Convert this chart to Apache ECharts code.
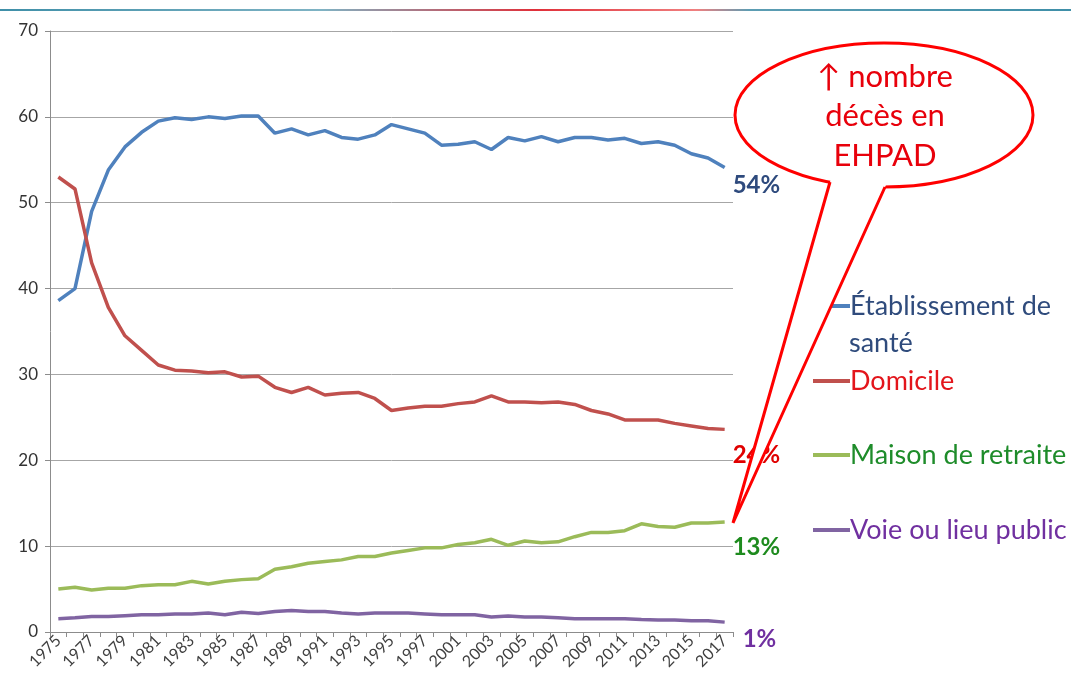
<!DOCTYPE html>
<html>
<head>
<meta charset="utf-8">
<script src="https://cdn.jsdelivr.net/npm/echarts@6/dist/echarts.min.js"></script>
<style>
  html,body{margin:0;padding:0;background:#fff;}
  #main{width:1071px;height:680px;}
</style>
</head>
<body>
<div id="main"></div>
<script>
// années (1998 et 2000 absentes du graphique)
var years = ['1975','1976','1977','1978','1979','1980','1981','1982','1983','1984','1985','1986','1987','1988','1989','1990','1991','1992','1993','1994','1995','1996','1997','1999','2001','2002','2003','2004','2005','2006','2007','2008','2009','2010','2011','2012','2013','2014','2015','2016','2017'];
var etablissement = [38.6,40.0,49.0,53.8,56.5,58.2,59.5,59.9,59.7,60.0,59.8,60.1,60.1,58.1,58.6,57.9,58.4,57.6,57.4,57.9,59.1,58.6,58.1,56.7,56.8,57.1,56.2,57.6,57.2,57.7,57.1,57.6,57.6,57.3,57.5,56.9,57.1,56.7,55.7,55.2,54.1];
var domicile = [53.0,51.6,43.0,37.8,34.5,32.8,31.1,30.5,30.4,30.2,30.3,29.7,29.8,28.5,27.9,28.5,27.6,27.8,27.9,27.2,25.8,26.1,26.3,26.3,26.6,26.8,27.5,26.8,26.8,26.7,26.8,26.5,25.8,25.4,24.7,24.7,24.7,24.3,24.0,23.7,23.6];
var maison = [5.0,5.2,4.9,5.1,5.1,5.4,5.5,5.5,5.9,5.6,5.9,6.1,6.2,7.3,7.6,8.0,8.2,8.4,8.8,8.8,9.2,9.5,9.8,9.8,10.2,10.4,10.8,10.1,10.6,10.4,10.5,11.1,11.6,11.6,11.8,12.6,12.3,12.2,12.7,12.7,12.8];
var voie = [1.55,1.65,1.8,1.8,1.9,2.0,2.0,2.1,2.1,2.2,2.0,2.3,2.15,2.4,2.5,2.4,2.4,2.2,2.1,2.2,2.2,2.2,2.1,2.0,2.0,2.0,1.75,1.85,1.75,1.75,1.65,1.55,1.55,1.55,1.55,1.45,1.4,1.4,1.3,1.3,1.15];
var endLabels = ['54%','24%','13%','1%'];
var seriesNames = ['Établissement de santé','Domicile','Maison de retraite','Voie ou lieu public'];
var bulle = ['↑ nombre','décès en','EHPAD'];

var FONT = 'Lato, "Open Sans", sans-serif';
var chart = echarts.init(document.getElementById('main'), null, {renderer:'canvas'});

function legendItem(name, color, textColor, top, label){
  return {
    data:[{name:name, textStyle:{color:textColor}}],
    left:808, top:top, orient:'vertical',
    icon:'rect', itemWidth:37, itemHeight:4,
    selectedMode:false,
    itemStyle:{color:color},
    formatter: label ? function(){return label;} : null,
    textStyle:{fontFamily:FONT, fontSize:27, lineHeight:32, padding:[0,0,0,-5]}
  };
}

function lineSerie(name, data, color, lblColor, lblText, offset){
  return {
    name:name, type:'line', data:data,
    showSymbol:false, symbol:'none',
    lineStyle:{color:color, width:3.5},
    itemStyle:{color:color},
    endLabel:{
      show:true, formatter:lblText, color:lblColor,
      fontFamily:FONT, fontSize:24, fontWeight:'bold',
      distance:8, offset:offset
    }
  };
}

// bulle "EHPAD" : ellipse + pointe
var tip = [733,523], A = [830,182], B = [885,187];
function ext(p, d){ // prolonge le segment tip->p de d px
  var dx = p[0]-tip[0], dy = p[1]-tip[1], l = Math.sqrt(dx*dx+dy*dy);
  return [p[0]+dx/l*d, p[1]+dy/l*d];
}
function bulleText(txt, y){
  return {type:'text', z:103, style:{text:txt, x:885, y:y, align:'center', verticalAlign:'middle', fill:'#E8000B', font:'31px ' + FONT}};
}

var option = {
  animation:false,
  backgroundColor:'#fff',
  grid:{left:50, right:338, top:31, bottom:48},
  legend:[
    legendItem(seriesNames[0], '#4F81BD', '#2F4B7C', 285, 'Établissement de'),
    legendItem(seriesNames[1], '#C0504D', '#E3151B', 360),
    legendItem(seriesNames[2], '#9BBB59', '#1E8C2A', 434),
    legendItem(seriesNames[3], '#8064A2', '#7030A0', 509)
  ],
  xAxis:{
    type:'category', data:years, boundaryGap:true,
    axisLine:{lineStyle:{color:'#8C8C8C', width:1}},
    axisTick:{show:true, interval:0, length:5, lineStyle:{color:'#8C8C8C'}},
    axisLabel:{interval:1, rotate:45, color:'#404040', fontFamily:FONT, fontSize:16, margin:6}
  },
  yAxis:{
    type:'value', min:0, max:70, interval:10,
    axisLine:{show:true, lineStyle:{color:'#8C8C8C'}},
    axisTick:{show:true, length:5, lineStyle:{color:'#8C8C8C'}},
    axisLabel:{color:'#333', fontFamily:FONT, fontSize:17, margin:12},
    splitLine:{lineStyle:{color:'#A6A6A6', width:1}}
  },
  series:[
    lineSerie(seriesNames[0], etablissement, '#4F81BD', '#2E4A7D', endLabels[0], [0,18]),
    lineSerie(seriesNames[1], domicile, '#C0504D', '#E00000', endLabels[1], [0,26]),
    lineSerie(seriesNames[2], maison, '#9BBB59', '#1E8B1E', endLabels[2], [0,25]),
    lineSerie(seriesNames[3], voie, '#8064A2', '#7030A0', endLabels[3], [10,17])
  ],
  graphic:[
    // trait décoratif en haut
    {type:'rect', z:100, shape:{x:0, y:9, width:1071, height:2},
      style:{fill:new echarts.graphic.LinearGradient(0,0,1,0,[
        {offset:0, color:'#3F8FA8'},{offset:0.3, color:'#7FB3C4'},
        {offset:0.5, color:'#E0303A'},{offset:0.65, color:'#F08080'},
        {offset:0.7, color:'#5C9DB3'},{offset:1, color:'#3F8FA8'}])}},
    {type:'ellipse', z:100, shape:{cx:884, cy:115, rx:149, ry:72},
      style:{fill:'#fff', stroke:'#FF0000', lineWidth:3}},
    {type:'polygon', z:101, shape:{points:[ext(A,10), tip, ext(B,10)]},
      style:{fill:'#fff'}},
    {type:'polyline', z:102, shape:{points:[A, tip, B]},
      style:{stroke:'#FF0000', lineWidth:3, lineJoin:'miter'}},
    bulleText(bulle[0], 77),
    bulleText(bulle[1], 116),
    bulleText(bulle[2], 156),
    // suite du libellé de légende
    {type:'text', z:50, style:{text:'santé', x:849, y:343, verticalAlign:'middle', fill:'#2F4B7C', font:'27px ' + FONT}}
  ]
};

chart.setOption(option);
</script>
</body>
</html>
